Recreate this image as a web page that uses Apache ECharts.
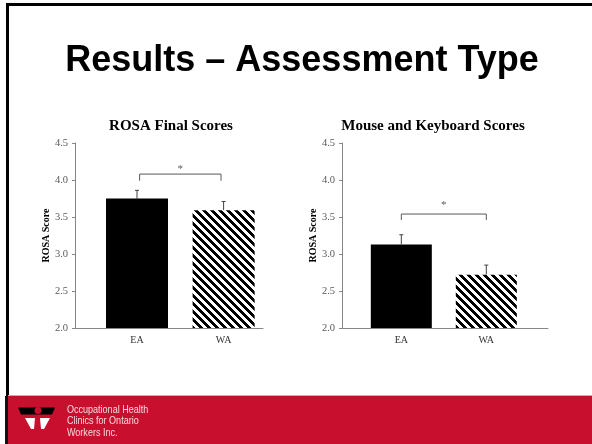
<!DOCTYPE html>
<html>
<head>
<meta charset="utf-8">
<script src="https://cdn.jsdelivr.net/npm/echarts@6/dist/echarts.min.js"></script>
<style>
  html, body { margin: 0; padding: 0; background: #fff; }
  #main { width: 592px; height: 444px; }
</style>
</head>
<body>
<div id="main"></div>
<script>
// data
const categories = ['EA', 'WA'];
const rosaMeans = [3.75, 3.59];
const rosaErrors = [0.11, 0.12];
const mkMeans = [3.13, 2.72];
const mkErrors = [0.13, 0.13];
const yTicks = [2.0, 2.5, 3.0, 3.5, 4.0, 4.5];
// significance brackets: [x, y] in axis units
const rosaBracket = [[1.03, 3.99], [1.03, 4.08], [1.97, 4.08], [1.97, 3.99]];
const mkBracket = [[1.0, 3.46], [1.0, 3.54], [2.0, 3.54], [2.0, 3.46]];
const rosaStar = [[1.5, 4.15]];
const mkStar = [[1.5, 3.66]];

// diagonal stripe pattern for WA bars
function stripeCanvas() {
    const p = 8;
    const c = document.createElement('canvas');
    c.width = p; c.height = p;
    const ctx = c.getContext('2d');
    const img = ctx.createImageData(p, p);
    for (let y = 0; y < p; y++) {
        for (let x = 0; x < p; x++) {
            const d = ((x - y) % p + p) % p;
            const v = d < p / 2 ? 0 : 255;
            const i = (y * p + x) * 4;
            img.data[i] = v; img.data[i + 1] = v; img.data[i + 2] = v; img.data[i + 3] = 255;
        }
    }
    ctx.putImageData(img, 0, 0);
    return c;
}
const stripes = {image: stripeCanvas(), repeat: 'repeat'};

const serif = 'Liberation Serif, Times New Roman, serif';

function barData(means) {
    return means.map((v, i) => ({
        value: [i + 1, v],
        itemStyle: {color: i === 0 ? '#000' : stripes}
    }));
}
function errData(means, errs) {
    return means.map((v, i) => [i + 1, v, v + errs[i]]);
}
function renderErr(params, api) {
    const lo = api.coord([api.value(0), api.value(1)]);
    const hi = api.coord([api.value(0), api.value(2)]);
    const style = {stroke: '#404040', lineWidth: 1};
    return {
        type: 'group',
        children: [
            {type: 'line', shape: {x1: lo[0], y1: lo[1], x2: hi[0], y2: hi[1]}, style: style},
            {type: 'line', shape: {x1: hi[0] - 2, y1: hi[1], x2: hi[0] + 2, y2: hi[1]}, style: style}
        ]
    };
}

function xAxisFor(idx, min, max) {
    return {
        type: 'value', gridIndex: idx, min: min, max: max,
        splitLine: {show: false},
        axisLine: {show: true, lineStyle: {color: '#868686'}},
        axisTick: {show: false},
        axisLabel: {
            customValues: [1, 2], margin: 7,
            formatter: v => categories[Math.round(v) - 1] || '',
            fontFamily: serif, fontSize: 10, color: '#333'
        }
    };
}
function yAxisFor(idx) {
    return {
        type: 'value', gridIndex: idx, min: 2, max: 4.5, interval: 0.5,
        name: 'ROSA Score', nameLocation: 'middle', nameGap: 24,
        nameTextStyle: {fontFamily: serif, fontSize: 10, fontWeight: 'bold', color: '#000'},
        splitLine: {show: false},
        axisLine: {show: true, lineStyle: {color: '#868686'}},
        axisTick: {show: true, length: 3, lineStyle: {color: '#868686'}},
        axisLabel: {
            margin: 7, fontFamily: serif, fontSize: 10.5, color: '#595959',
            formatter: v => yTicks.find(t => Math.abs(t - v) < 1e-6).toFixed(1)
        }
    };
}

const chart = echarts.init(document.getElementById('main'), null, {renderer: 'canvas'});
const option = {
    backgroundColor: '#fff',
    animation: false,
    title: [
        {text: 'Results – Assessment Type', left: 297, top: 38, textAlign: 'center',
         textStyle: {fontFamily: 'Liberation Sans, Arial', fontSize: 36, fontWeight: 'bold', color: '#000'}},
        {text: 'ROSA Final Scores', left: 166, top: 114, textAlign: 'center',
         textStyle: {fontFamily: serif, fontSize: 15, fontWeight: 'bold', color: '#000'}},
        {text: 'Mouse and Keyboard Scores', left: 428, top: 114, textAlign: 'center',
         textStyle: {fontFamily: serif, fontSize: 15, fontWeight: 'bold', color: '#000'}}
    ],
    grid: [
        {left: 75, top: 143, width: 188, height: 185},
        {left: 342, top: 143, width: 206, height: 185}
    ],
    xAxis: [xAxisFor(0, 0.284, 2.455), xAxisFor(1, 0.302, 2.726)],
    yAxis: [yAxisFor(0), yAxisFor(1)],
    series: [
        {type: 'bar', xAxisIndex: 0, yAxisIndex: 0, barWidth: 62, data: barData(rosaMeans)},
        {type: 'bar', xAxisIndex: 1, yAxisIndex: 1, barWidth: 61, data: barData(mkMeans)},
        {type: 'custom', xAxisIndex: 0, yAxisIndex: 0, renderItem: renderErr, data: errData(rosaMeans, rosaErrors)},
        {type: 'custom', xAxisIndex: 1, yAxisIndex: 1, renderItem: renderErr, data: errData(mkMeans, mkErrors)},
        {type: 'line', xAxisIndex: 0, yAxisIndex: 0, data: rosaBracket, symbol: 'none',
         lineStyle: {color: '#595959', width: 1}},
        {type: 'line', xAxisIndex: 1, yAxisIndex: 1, data: mkBracket, symbol: 'none',
         lineStyle: {color: '#595959', width: 1}},
        {type: 'scatter', xAxisIndex: 0, yAxisIndex: 0, data: rosaStar, symbolSize: 0,
         label: {show: true, position: 'inside', formatter: '*', fontFamily: serif, fontSize: 11, color: '#333'}},
        {type: 'scatter', xAxisIndex: 1, yAxisIndex: 1, data: mkStar, symbolSize: 0,
         label: {show: true, position: 'inside', formatter: '*', fontFamily: serif, fontSize: 11, color: '#333'}}
    ],
    graphic: [
        // slide frame
        {type: 'rect', shape: {x: 6, y: 3, width: 586, height: 3}, style: {fill: '#000'}},
        {type: 'rect', shape: {x: 6, y: 3, width: 3, height: 441}, style: {fill: '#000'}},
        // footer band
        {type: 'rect', shape: {x: 8, y: 396, width: 584, height: 48}, style: {fill: '#c8102e'}},
        {type: 'rect', shape: {x: 8, y: 395, width: 584, height: 1}, style: {fill: '#e8a0a8'}},
        {type: 'rect', shape: {x: 5, y: 396, width: 3, height: 48}, style: {fill: '#111'}},
        // logo
        {type: 'polygon', shape: {points: [[18, 407.5], [55, 407.5], [52, 414.5], [21, 414.5]]}, style: {fill: '#000'}},
        {type: 'circle', shape: {cx: 38, cy: 410.5, r: 3.5}, style: {fill: '#c8102e'}},
        {type: 'polygon', shape: {points: [[25, 418], [35, 418], [34, 429], [31, 429]]}, style: {fill: '#fff'}},
        {type: 'polygon', shape: {points: [[40, 418], [50, 418], [44, 429], [41, 429]]}, style: {fill: '#fff'}},
        {type: 'text', x: 67, y: 404, scaleX: 0.82,
         style: {text: 'Occupational Health\nClinics for Ontario\nWorkers Inc.', fill: '#f6d9de',
                 font: '11px Liberation Sans, Arial', lineHeight: 11.5}}
    ]
};
chart.setOption(option);
</script>
</body>
</html>
